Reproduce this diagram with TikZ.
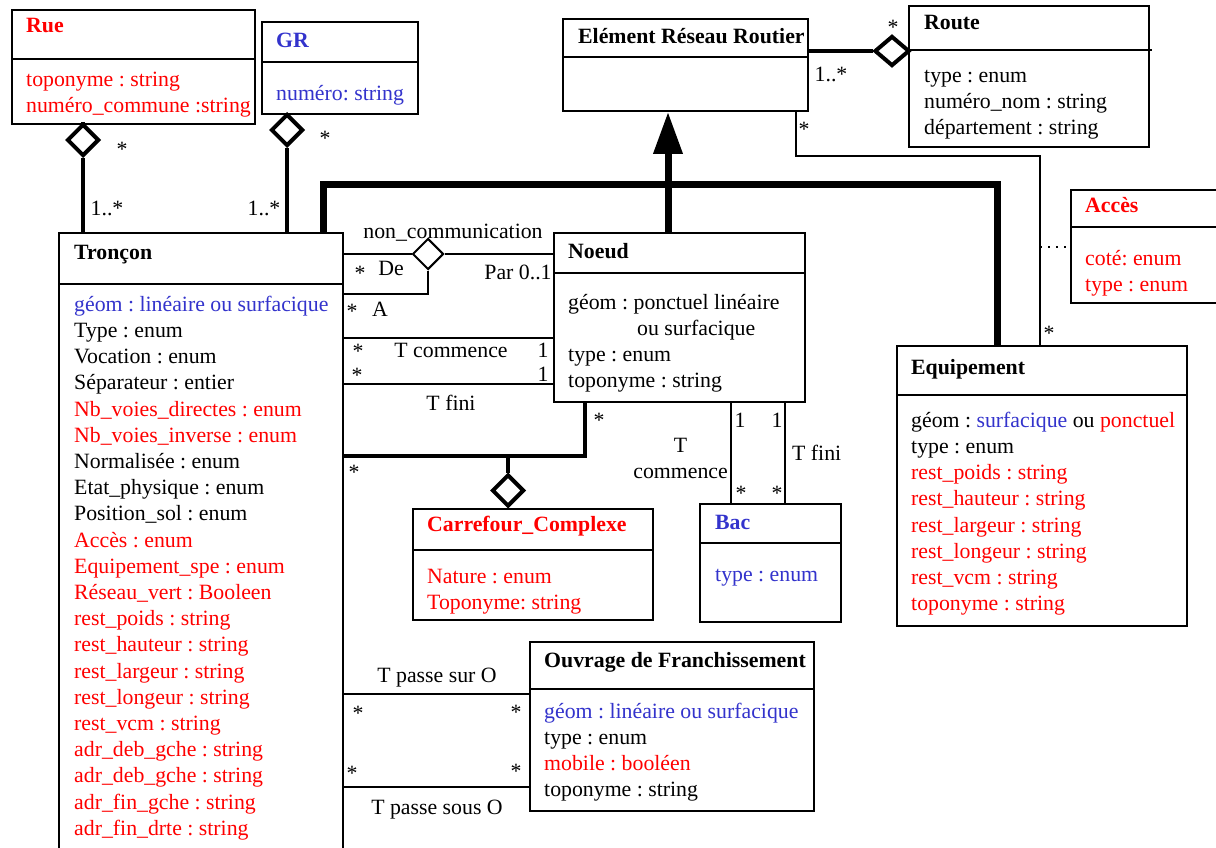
\documentclass[tikz,border=0pt]{standalone}
\usepackage{fontspec}
\setmainfont{Liberation Serif}
\usetikzlibrary{positioning,arrows.meta,shapes.geometric,calc}
\definecolor{rd}{RGB}{255,0,0}
\definecolor{bl}{RGB}{51,51,204}

\begin{document}
\frenchspacing
\begin{tikzpicture}[
    x=1pt, y=-1pt,
    font=\fontsize{21.8}{26.2}\selectfont,
    cls/.style={draw, line width=2pt, anchor=north west, inner sep=0pt},
    sep/.style={line width=2pt},
    ttl/.style={font=\fontsize{21.8}{26.2}\selectfont\bfseries, anchor=base west, inner sep=0pt},
    attr/.style={anchor=north west, inner sep=0pt, align=left},
    lbl/.style={anchor=base, inner sep=0pt},
    assoc/.style={line width=2pt},
    agg/.style={line width=4pt},
    gen/.style={line width=7pt},
    aggdia/.style={diamond, draw, line width=4pt, inner sep=0pt, fill=white,
                   minimum width=32pt, minimum height=32pt},
    dia/.style={diamond, draw, line width=2pt, inner sep=0pt, fill=white,
                minimum width=31pt, minimum height=31pt},
    dotline/.style={line width=2pt, dash pattern=on 2pt off 6pt},
  ]
    \useasboundingbox (0,0) rectangle (1216,848);
    \fill[white] (0,0) rectangle (1216,848);
    \clip (0,0) rectangle (1216,848);

    % classes
    \node[cls, minimum width=243pt, minimum height=114pt] (rue) at (11,9) {};
    \draw[sep] ($(rue.north west)+(0,50)$) -- ($(rue.north east)+(0,50)$);
    \node[ttl, text=rd] (rue-t) at (26,33) {Rue};
    \node[attr, text=rd] (rue-a) at (26,67.7) {\strut toponyme : string\\numéro\_commune :string};

    \node[cls, minimum width=156pt, minimum height=92pt] (gr) at (261,21) {};
    \draw[sep] ($(gr.north west)+(0,41)$) -- ($(gr.north east)+(0,41)$);
    \node[ttl, text=bl] (gr-t) at (276,48) {GR};
    \node[attr, text=bl] (gr-a) at (276,81.7) {\strut numéro: string};

    \node[cls, minimum width=245pt, minimum height=92pt] (err) at (562,18) {};
    \draw[sep] ($(err.north west)+(0,39)$) -- ($(err.north east)+(0,39)$);
    \node[ttl] (err-t) at (578,44) {Elément Réseau Routier};

    \node[cls, minimum width=240pt, minimum height=141pt] (route) at (908,5) {};
    \draw[sep] ($(route.north west)+(0,45)$) -- ($(route.north east)+(2,45)$);
    \node[ttl] (route-t) at (924,30) {Route};
    \node[attr] (route-a) at (924,63.7) {\strut type : enum\\numéro\_nom : string\\département : string};

    \node[cls, minimum width=200pt, minimum height=113pt] (acces) at (1070,189) {};
    \draw[sep] ($(acces.north west)+(0,38)$) -- ($(acces.north east)+(0,38)$);
    \node[ttl, text=rd] (acces-t) at (1085,212) {Accès};
    \node[attr, text=rd] (acces-a) at (1085,246.7) {\strut coté: enum\\type : enum};

    \node[cls, minimum width=284pt, minimum height=640pt] (troncon) at (58,232) {};
    \draw[sep] ($(troncon.north west)+(0,52)$) -- ($(troncon.north east)+(0,52)$);
    \node[ttl] (troncon-t) at (74,259) {Tronçon};
    \node[attr] (troncon-a) at (74,292.7) {\strut\textcolor{bl}{géom : linéaire ou surfacique}\\
        Type : enum\\
        Vocation : enum\\
        Séparateur : entier\\
        \textcolor{rd}{Nb\_voies\_directes : enum}\\
        \textcolor{rd}{Nb\_voies\_inverse : enum}\\
        Normalisée : enum\\
        Etat\_physique : enum\\
        Position\_sol : enum\\
        \textcolor{rd}{Accès : enum}\\
        \textcolor{rd}{Equipement\_spe : enum}\\
        \textcolor{rd}{Réseau\_vert : Booleen}\\
        \textcolor{rd}{rest\_poids : string}\\
        \textcolor{rd}{rest\_hauteur : string}\\
        \textcolor{rd}{rest\_largeur : string}\\
        \textcolor{rd}{rest\_longeur : string}\\
        \textcolor{rd}{rest\_vcm : string}\\
        \textcolor{rd}{adr\_deb\_gche : string}\\
        \textcolor{rd}{adr\_deb\_gche : string}\\
        \textcolor{rd}{adr\_fin\_gche : string}\\
        \textcolor{rd}{adr\_fin\_drte : string}};

    \node[cls, minimum width=251pt, minimum height=169pt] (noeud) at (553,232) {};
    \draw[sep] ($(noeud.north west)+(0,41)$) -- ($(noeud.north east)+(0,41)$);
    \node[ttl] (noeud-t) at (568,258) {Noeud};
    \node[attr] (noeud-a) at (568,290.7) {\strut géom : ponctuel linéaire\\
        \hspace*{69pt}ou surfacique\\type : enum\\toponyme : string};

    \node[cls, minimum width=290pt, minimum height=280pt] (equip) at (896,345) {};
    \draw[sep] ($(equip.north west)+(0,50)$) -- ($(equip.north east)+(0,50)$);
    \node[ttl] (equip-t) at (911,374) {Equipement};
    \node[attr] (equip-a) at (911,408.7) {\strut géom : \textcolor{bl}{surfacique} ou \textcolor{rd}{ponctuel}\\
        type : enum\\
        \textcolor{rd}{rest\_poids : string}\\
        \textcolor{rd}{rest\_hauteur : string}\\
        \textcolor{rd}{rest\_largeur : string}\\
        \textcolor{rd}{rest\_longeur : string}\\
        \textcolor{rd}{rest\_vcm : string}\\
        \textcolor{rd}{toponyme : string}};

    \node[cls, minimum width=240pt, minimum height=111pt] (carrefour) at (412,508) {};
    \draw[sep] ($(carrefour.north west)+(0,42)$) -- ($(carrefour.north east)+(0,42)$);
    \node[ttl, text=rd] (carrefour-t) at (427,531) {Carrefour\_Complexe};
    \node[attr, text=rd] (carrefour-a) at (427,564.7) {\strut Nature : enum\\Toponyme: string};

    \node[cls, minimum width=141pt, minimum height=118pt] (bac) at (699,503) {};
    \draw[sep] ($(bac.north west)+(0,40)$) -- ($(bac.north east)+(0,40)$);
    \node[ttl, text=bl] (bac-t) at (715,529) {Bac};
    \node[attr, text=bl] (bac-a) at (715,562.7) {\strut type : enum};

    \node[cls, minimum width=284pt, minimum height=169pt] (ouvrage) at (529,641) {};
    \draw[sep] ($(ouvrage.north west)+(0,48)$) -- ($(ouvrage.north east)+(0,48)$);
    \node[ttl] (ouvrage-t) at (544,667) {Ouvrage de Franchissement};
    \node[attr] (ouvrage-a) at (544,699.7) {\strut\textcolor{bl}{géom : linéaire ou surfacique}\\
        type : enum\\
        \textcolor{rd}{mobile : booléen}\\
        toponyme : string};

    % aggregations
    \node[aggdia] (rue-dia) at (83,140) {};
    \draw[agg] (rue-dia.north) -- (rue-dia.north |- rue.south);
    \draw[agg] (rue-dia.south) -- (rue-dia.south |- troncon.north);
    \node[lbl] at (122,157) {*};
    \node[lbl] at (107,215) {1..*};

    \node[aggdia] (gr-dia) at (287,130) {};
    \draw[agg] (gr-dia.south) -- (gr-dia.south |- troncon.north);
    \node[lbl] at (325,146) {*};
    \node[lbl] at (264,215) {1..*};

    \node[aggdia, minimum width=35pt, minimum height=30pt] (route-dia) at (892,51) {};
    \draw[agg] (route-dia.west -| err.east) -- (route-dia.west);
    \node[lbl] at (893,35) {*};
    \node[lbl] at (831,82) {1..*};

    % generalisation
    \coordinate (gen-l) at (323,185);
    \coordinate (gen-m) at (668,185);
    \coordinate (gen-r) at (997,185);
    \draw[gen] (gen-l |- troncon.north) -- (gen-l) -- (gen-r) -- (gen-r |- equip.north);
    \draw[gen, -{Triangle[length=42pt,width=28pt]}] (gen-m |- noeud.north) -- (gen-m |- err.south);

    % Route - Equipement, Acces
    \coordinate (ra) at (796,156);
    \coordinate (rb) at (1040,156);
    \draw[assoc] (ra |- err.south) -- (ra) -- (rb) -- (rb |- equip.north);
    \draw[dotline] (rb |- acces.west) -- (acces.west);
    \node[lbl] at (804,137) {*};
    \node[lbl] at (1049,340) {*};

    % non_communication
    \node[dia] (nc-dia) at (428,254) {};
    \coordinate (nc-a) at (428,294);
    \draw[assoc] (troncon.east |- nc-dia) -- (nc-dia.west);
    \draw[assoc] (nc-dia.east) -- (noeud.west |- nc-dia);
    \draw[assoc] (nc-dia.south) -- (nc-a) -- (nc-a -| troncon.east);
    \node[lbl] at (453,238) {non\_communication};
    \node[lbl] at (360,280) {*};
    \node[lbl] at (391,275) {De};
    \node[lbl] at (352,318) {*};
    \node[lbl] at (380,316) {A};
    \node[lbl] at (518,279) {Par 0..1};

    % T commence / T fini
    \coordinate (tc) at (450,338);
    \coordinate (tf) at (450,384);
    \draw[assoc] (troncon.east |- tc) -- (noeud.west |- tc);
    \draw[assoc] (troncon.east |- tf) -- (noeud.west |- tf);
    \node[lbl] at (358,358) {*};
    \node[lbl] at (451,357) {T commence};
    \node[lbl] at (543,357) {1};
    \node[lbl] at (357,382) {*};
    \node[lbl] at (543,381) {1};
    \node[lbl] at (451,410) {T fini};

    % Carrefour_Complexe
    \coordinate (cc-n) at (585,456);
    \node[aggdia] (cc-dia) at (508,490.5) {};
    \draw[agg] (cc-n |- noeud.south) -- (cc-n) -- (cc-n -| troncon.east);
    \draw[agg] (cc-dia.north) -- (cc-dia.north |- cc-n);
    \node[lbl] at (599,427) {*};
    \node[lbl] at (354,479) {*};

    % Bac
    \coordinate (bac-c) at (731,450);
    \coordinate (bac-f) at (785,450);
    \draw[assoc] (bac-c |- noeud.south) -- (bac-c |- bac.north);
    \draw[assoc] (bac-f |- noeud.south) -- (bac-f |- bac.north);
    \node[attr, anchor=north east, align=center] at (728,433.7) {\strut T\\commence};
    \node[lbl] at (740,427) {1};
    \node[lbl] at (777,427) {1};
    \node[lbl] at (741,500) {*};
    \node[lbl] at (777,500) {*};
    \node[lbl, anchor=base west] at (792,460) {T fini};

    % Ouvrage de Franchissement
    \coordinate (ps) at (440,694);
    \coordinate (pso) at (440,787);
    \draw[assoc] (troncon.east |- ps) -- (ouvrage.west |- ps);
    \draw[assoc] (troncon.east |- pso) -- (ouvrage.west |- pso);
    \node[lbl] at (437,682) {T passe sur O};
    \node[lbl] at (358,720) {*};
    \node[lbl] at (516,719) {*};
    \node[lbl] at (352,780) {*};
    \node[lbl] at (516,778) {*};
    \node[lbl] at (437,814) {T passe sous O};
\end{tikzpicture}
\end{document}
